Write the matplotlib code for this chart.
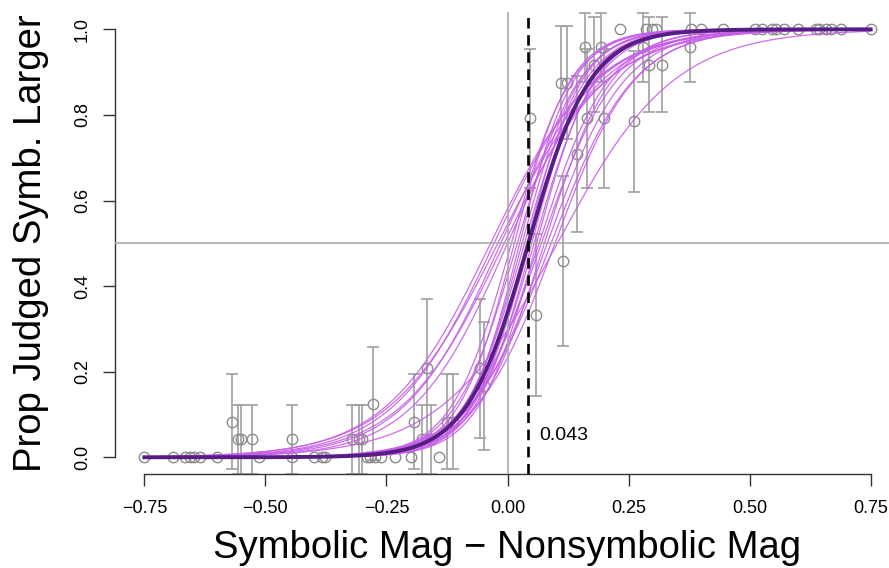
import matplotlib
matplotlib.use("Agg")
import matplotlib.pyplot as plt
import numpy as np

plt.rcParams["font.family"] = ["Liberation Sans", "DejaVu Sans"]

# observed proportions per magnitude difference, with half-width of the bars
pt_x = [-0.750, -0.691, -0.667, -0.655, -0.647, -0.636, -0.600, -0.570,
        -0.556, -0.550, -0.527, -0.513, -0.445, -0.445, -0.400, -0.383,
        -0.376, -0.321, -0.307, -0.300, -0.290, -0.283, -0.277, -0.273,
        -0.262, -0.233, -0.199, -0.194, -0.176, -0.166, -0.159, -0.142,
        -0.124, -0.112, -0.056, -0.049, 0.047, 0.058, 0.110, 0.114,
        0.123, 0.143, 0.161, 0.165, 0.178, 0.194, 0.200, 0.233,
        0.262, 0.280, 0.285, 0.292, 0.299, 0.306, 0.319, 0.377,
        0.378, 0.399, 0.446, 0.512, 0.526, 0.547, 0.554, 0.571,
        0.599, 0.636, 0.643, 0.657, 0.667, 0.688, 0.750]
pt_y = [0.000, 0.000, 0.000, 0.000, 0.000, 0.000, 0.000, 0.083,
        0.042, 0.042, 0.042, 0.000, 0.042, 0.000, 0.000, 0.000,
        0.000, 0.042, 0.042, 0.042, 0.000, 0.000, 0.125, 0.000,
        0.000, 0.000, 0.000, 0.083, 0.042, 0.208, 0.042, 0.000,
        0.083, 0.083, 0.208, 0.167, 0.792, 0.333, 0.875, 0.458,
        0.875, 0.708, 0.958, 0.792, 0.917, 0.958, 0.792, 1.000,
        0.785, 0.958, 1.000, 0.917, 1.000, 1.000, 0.917, 0.958,
        1.000, 1.000, 1.000, 1.000, 1.000, 1.000, 1.000, 1.000,
        1.000, 1.000, 1.000, 1.000, 1.000, 1.000, 1.000]
pt_err = [0, 0, 0, 0, 0, 0, 0, 0.111,
          0.080, 0.080, 0.080, 0, 0.080, 0, 0, 0,
          0, 0.080, 0.080, 0.080, 0, 0, 0.132, 0,
          0, 0, 0, 0.111, 0.080, 0.162, 0.080, 0,
          0.111, 0.111, 0.162, 0.149, 0.162, 0.189, 0.132, 0.199,
          0.132, 0.182, 0.080, 0.162, 0.111, 0.080, 0.162, 0,
          0.165, 0.080, 0, 0.111, 0, 0, 0.111, 0.080,
          0, 0, 0, 0, 0, 0, 0, 0,
          0, 0, 0, 0, 0, 0, 0]

# individual logistic fits: midpoint and width
curve_mid = [-0.035, -0.028, -0.020, -0.014, -0.007, 0.000,
             0.008, 0.014, 0.020, 0.025, 0.030, 0.035, 0.040, 0.046,
             0.050, 0.055, 0.060,
             0.065, 0.070, 0.076, 0.082, 0.090, 0.098, 0.103]
curve_width = [0.108, 0.104, 0.112, 0.100, 0.106, 0.098,
               0.062, 0.058, 0.064, 0.056, 0.060, 0.063, 0.057, 0.061,
               0.059, 0.064, 0.060,
               0.072, 0.078, 0.070, 0.080, 0.085, 0.082, 0.120]
# group fit
group_mid = 0.043
group_width = 0.064

x_ticks = [-0.75, -0.50, -0.25, 0.00, 0.25, 0.50, 0.75]
y_ticks = [0.0, 0.2, 0.4, 0.6, 0.8, 1.0]


def logistic(x, mid, width):
    return 1.0 / (1.0 + np.exp(-(x - mid) / width))


fig = plt.figure(figsize=(8.89, 5.68), dpi=100)
ax = fig.add_axes([0.1297, 0.1648, 0.8824, 0.8137])
ax.set_xlim(-0.81, 0.81)
ax.set_ylim(-0.04, 1.04)

px = np.array(pt_x)
py = np.array(pt_y)
pe = np.array(pt_err)
has = pe > 0
ax.errorbar(px[has], py[has], yerr=pe[has], fmt="none", ecolor="#a0a0a0",
            elinewidth=1.2, capsize=4.5, capthick=1.2, zorder=2)
ax.plot(px, py, "o", mfc="none", mec="#8c8c8c", mew=1.0, ms=7.5, zorder=2.5)

xs = np.linspace(min(pt_x), max(pt_x), 400)
for m, w in zip(curve_mid, curve_width):
    ax.plot(xs, logistic(xs, m, w), color="#c75ee8", lw=0.9, alpha=0.9,
            zorder=3)

ax.axhline(0.5, color="#aaaaaa", lw=1.2, zorder=3.5)
ax.axvline(0.0, color="#aaaaaa", lw=1.2, zorder=3.5)

ax.plot(xs, logistic(xs, group_mid, group_width), color="#561d85", lw=2.8,
        zorder=4)
ax.axvline(group_mid, color="black", lw=1.9, ls=(0, (4, 2.5)), zorder=5)
ax.text(group_mid + 0.023, 0.052, f"{group_mid:.3f}", ha="left",
        va="center", fontsize=14)

for s in ["top", "right"]:
    ax.spines[s].set_visible(False)
ax.spines["left"].set_bounds(0, 1)
ax.spines["bottom"].set_bounds(-0.75, 0.75)
for s in ["left", "bottom"]:
    ax.spines[s].set_color("#333333")
    ax.spines[s].set_linewidth(1.0)

ax.set_xticks(x_ticks)
ax.set_xticklabels([f"{t:.2f}".replace("-", "\u2212") for t in x_ticks])
ax.set_yticks(y_ticks)
ax.set_yticklabels([f"{t:.1f}" for t in y_ticks], rotation=90, va="center")
ax.tick_params(axis="both", length=8.6, width=1.0, color="#333333",
               labelsize=13)
ax.tick_params(axis="x", pad=10)
ax.tick_params(axis="y", pad=9)

ax.set_xlabel("Symbolic Mag \u2212 Nonsymbolic Mag", fontsize=27.5)
ax.set_ylabel("Prop Judged Symb. Larger", fontsize=27.5)
ax.xaxis.set_label_coords(0.5, -0.121)
ax.yaxis.set_label_coords(-0.085, 0.5)

fig.savefig("out.png", dpi=100)
